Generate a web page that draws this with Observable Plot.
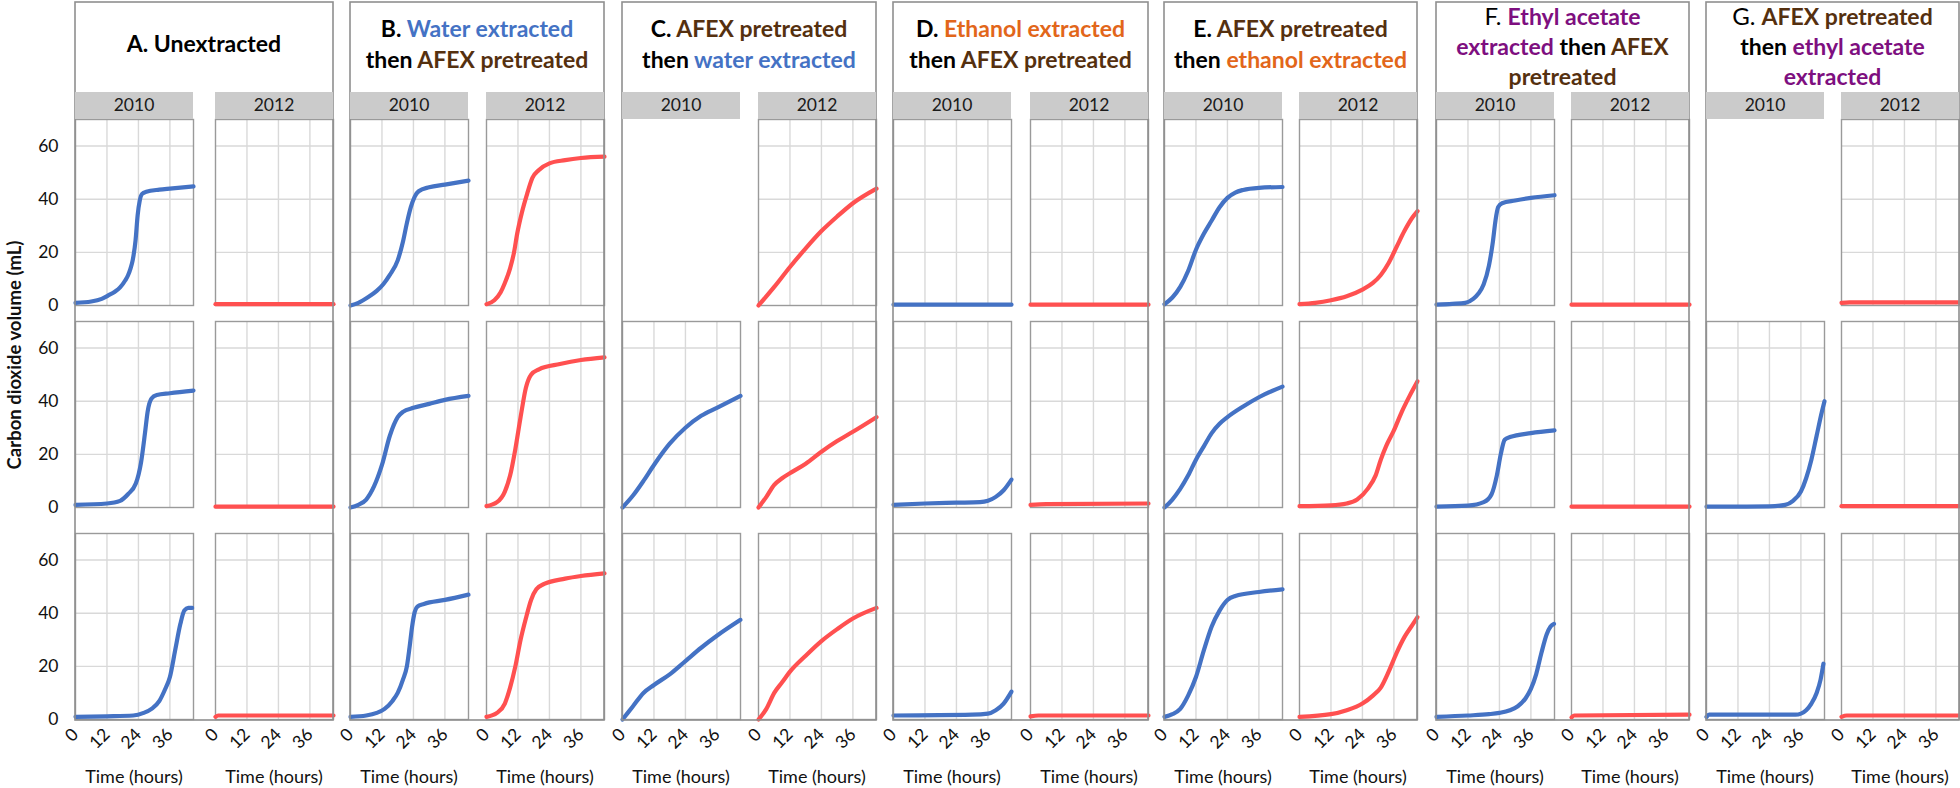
<!DOCTYPE html>
<html><head><meta charset="utf-8">
<script src="https://cdn.jsdelivr.net/npm/d3@7"></script>
<script src="https://cdn.jsdelivr.net/npm/@observablehq/plot@0.6"></script>
<style>
body{margin:0;background:#fff;}
#fig{position:relative;width:1960px;height:788px;overflow:hidden;background:#fff;font-family:Lato,"Open Sans",sans-serif;}
#fig svg.pan{position:absolute;}
#overlay{position:absolute;left:0;top:0;}
</style></head><body><div id="fig"></div>
<script>
// ---- categories / ticks ----
const groups = ["A","B","C","D","E","F","G"];
const years = ["2010","2012"];
const xTicks = [0,12,24,36];
const yTicks = [0,20,40,60];
const xGrid = [12,24,36];
const yGrid = [20,40,60];

// ---- titles (text segments: [text, colour key, weight]) ----
const titleA = [[["A. Unextracted","k"]]];
const titleB = [[["B. ","k"],["Water extracted","blue"]],[["then ","k"],["AFEX pretreated","brown"]]];
const titleC = [[["C. ","k"],["AFEX pretreated","brown"]],[["then ","k"],["water extracted","blue"]]];
const titleD = [[["D. ","k"],["Ethanol extracted","orange"]],[["then ","k"],["AFEX pretreated","brown"]]];
const titleE = [[["E. ","k"],["AFEX pretreated","brown"]],[["then ","k"],["ethanol extracted","orange"]]];
const titleF = [[["F. ","k","normal"],["Ethyl acetate","purple"]],[["extracted","purple"],[" then ","k"],["AFEX","brown"]],[["pretreated","brown"]]];
const titleG = [[["G.  ","k","normal"],["AFEX pretreated","brown"]],[["then ","k"],["ethyl acetate","purple"]],[["extracted","purple"]]];

// ---- series: [time (h), CO2 volume (mL)], rows 1..3, null = no panel ----
const A2010 = [
  [[0,1],[6,1.5],[10,2.5],[12.5,3.8],[15,5.2],[17,6.8],[19,9.5],[20,11.3],[21,14],[21.8,17],[22.9,24.5],[23.7,34],[24.5,39.5],[25.4,42],[27,42.8],[32,43.6],[36,44],[45,44.8]],
  [[0,1],[12,1.5],[17,2.5],[20,5],[23,9],[25,17],[26.5,28],[27.5,36],[29,41],[31,42.3],[36,43],[45,44]],
  [[0,1],[12,1.2],[22,1.5],[26,2.5],[29,4],[32,7],[34,11],[36,16],[38,26],[40,36],[41.5,41],[43,42],[44.5,42]]
];
const A2012 = [
  [[0,0.5],[45,0.5]],
  [[0,0.3],[45,0.3]],
  [[0,1],[1,1.5],[45,1.5]]
];
const B2010 = [
  [[0,0],[3,1],[6.5,3],[10,5.5],[12.5,8],[15,11.5],[18,17],[20,24],[21.5,31],[23,37],[24.5,41],[26,43],[30,44.5],[36,45.5],[45,47]],
  [[0,0],[3,1],[6,3],[9,8],[12,16],[15,27],[18,34],[20,36],[24,37.5],[30,39],[36,40.5],[45,42]],
  [[0,1],[6,1.5],[10,2.5],[13,4],[16,7],[18,10],[20,15],[21.5,20],[22.5,27],[23.5,35],[24.5,40.5],[25.5,42.5],[28,43.5],[36,45],[45,47]]
];
const B2012 = [
  [[0,0.5],[3,2],[5.4,5],[7,8.5],[9,14],[10.5,20],[11.7,27],[13.5,35],[15.5,42],[17.5,48],[20,51],[24,53.5],[30,54.7],[36,55.5],[45,56]],
  [[0,0.5],[4,2],[7,6],[9,12],[11,22],[13,34],[15,45],[17,50],[20,52],[28,54],[36,55.5],[45,56.5]],
  [[0,1],[4,2.5],[7,6],[9,12],[11,20],[13,30],[15,38],[17,45],[19,49],[22,51],[30,53],[36,54],[45,55]]
];
const C2010 = [
  null,
  [[0,0],[4,4.5],[8,10],[12,16],[18,24],[24,30],[30,34.5],[36,37.5],[45,42]],
  [[0,0],[4,5],[8,10],[12,13],[18,17],[24,22],[30,27],[36,31.5],[45,37.5]]
];
const C2012 = [
  [[0,0],[6,7],[12,14.5],[18,21.5],[24,28],[30,33.5],[36,38.5],[45,44]],
  [[0,0],[3,4],[6,8.5],[9,11],[13,13.5],[18,16.5],[24,21],[30,25],[36,28.5],[45,34]],
  [[0,0],[3,4],[6,10],[9,14],[12,18],[18,24],[24,29.5],[30,34],[36,38],[45,42]]
];
const D2010 = [
  [[0,0.3],[45,0.3]],
  [[0,1],[12,1.5],[24,1.8],[33,2],[36,2.5],[39,4],[42,6.5],[45,10.5]],
  [[0,1.5],[30,1.8],[36,2.2],[39,3.5],[42,6],[45,10.5]]
];
const D2012 = [
  [[0,0.3],[45,0.3]],
  [[0,1],[6,1.3],[45,1.5]],
  [[0,1.2],[3,1.5],[45,1.5]]
];
const E2010 = [
  [[0,0.5],[3,3],[6,7],[9,13],[12,21],[15,27],[18,32],[21,37],[24,40.5],[27,42.5],[30,43.5],[36,44.3],[45,44.6]],
  [[0,0],[3,3],[6,7],[9,12],[12,18],[15,23],[18,28],[21,31.5],[24,34],[30,38],[36,41.5],[45,45.5]],
  [[0,1],[3,2],[6,4],[9,9],[12,16],[15,26],[18,35],[21,41],[24,45],[27,46.5],[36,48],[45,49]]
];
const E2012 = [
  [[0,0.5],[6,1],[12,2],[18,3.5],[24,6],[28,8.5],[31,11.5],[34,16],[37,22],[40,28],[43,33],[45,35.5]],
  [[0,0.5],[12,0.8],[18,1.5],[22,3],[26,7],[29,12],[31,18],[33,23],[36,29],[39,36],[42,42],[45,47.5]],
  [[0,1],[12,2],[18,3.5],[24,6],[28,9],[31,12],[34,18],[37,25],[40,31],[43,35.5],[45,38.5]]
];
const F2010 = [
  [[0,0.3],[6,0.6],[11,1],[14,2.5],[16,4.5],[18,8],[20,15],[21.5,24],[22.5,32],[23.5,37],[25,38.5],[30,39.5],[36,40.5],[45,41.5]],
  [[0,0.3],[12,0.7],[18,2],[21,5],[23,12],[24.5,20],[26,25.5],[28,26.5],[36,28],[45,29]],
  [[0,1],[12,1.5],[20,2],[24,2.5],[28,3.5],[31,5],[34,8],[36,11.5],[38,17],[40,25],[42,32],[43.5,35],[44.8,36]]
];
const F2012 = [
  [[0,0.3],[45,0.3]],
  [[0,0.3],[45,0.3]],
  [[0,0.8],[1,1.5],[45,1.8]]
];
const G2010 = [
  null,
  [[0,0.3],[12,0.3],[24,0.4],[30,1],[33,2.5],[36,6],[38,11],[40,18],[42,27],[44,36],[45,40]],
  [[0,1],[1,1.8],[34,1.8],[36,2.2],[38,3.5],[40,6],[42,10],[43.5,15],[44.6,21]]
];
const G2012 = [
  [[0,1],[3,1.2],[45,1.2]],
  [[0,0.5],[45,0.5]],
  [[0,1],[2,1.5],[45,1.5]]
];

// ---- layout (presentation only) ----
const series = {A:[A2010,A2012],B:[B2010,B2012],C:[C2010,C2012],D:[D2010,D2012],E:[E2010,E2012],F:[F2010,F2012],G:[G2010,G2012]};
const titles = {A:titleA,B:titleB,C:titleC,D:titleD,E:titleE,F:titleF,G:titleG};
const left2010 = [75,350,622,893,1164,1436,1706];
const left2012 = [215,486,758,1030,1299,1571,1841];
const W = 118, H = 186, pad = 6;
const rowTop = [119, 321, 533];
const yearColor = ["#4472C4","#FF5050"];
const palette = {k:"#000000",blue:"#4472C4",brown:"#55300F",orange:"#E2661A",purple:"#7E0F80"};
const FONT = "Lato, 'Open Sans', sans-serif";

const fig = document.getElementById("fig");

function panel(curve, color, showY, showX) {
  const ml = showY ? 75 : pad, mb = showX ? 60 : pad;
  const svg = Plot.plot({
    width: W + ml + pad, height: H + pad + mb,
    marginLeft: ml, marginRight: pad, marginTop: pad, marginBottom: mb,
    x: {domain:[0,45], ticks:xTicks, tickRotate:-45, tickSize:0, tickPadding:12, label:null, axis: showX ? "bottom" : null},
    y: {domain:[0,70], ticks:yTicks, tickSize:0, tickPadding:17, label:null, axis: showY ? "left" : null},
    style: {background:"transparent", overflow:"visible", fontSize:"17.5px", fontFamily:FONT, color:"#111"},
    marks: [
      Plot.ruleX(xGrid, {stroke:"#d9d9d9", strokeWidth:1.4}),
      Plot.ruleY(yGrid, {stroke:"#d9d9d9", strokeWidth:1.4}),
      Plot.frame({stroke:"#9a9a9a", strokeWidth:1.4}),
      Plot.line(curve, {x:d=>d[0], y:d=>d[1], stroke:color, strokeWidth:4.2, curve:"monotone-x"})
    ]
  });
  svg.classList.add("pan");
  return {svg, ml};
}

groups.forEach((g, gi) => {
  [0,1].forEach(yi => {
    const left = yi === 0 ? left2010[gi] : left2012[gi];
    series[g][yi].forEach((curve, r) => {
      if (!curve) return;
      const {svg, ml} = panel(curve, yearColor[yi], gi === 0 && yi === 0, r === 2);
      svg.style.left = (left - ml) + "px";
      svg.style.top = (rowTop[r] - pad) + "px";
      fig.appendChild(svg);
    });
  });
});

// ---- overlay: group boxes, strips, titles, axis titles ----
const ov = d3.select(fig).append("svg").attr("id","overlay").attr("width",1960).attr("height",788)
  .style("font-family", FONT);

groups.forEach((g, gi) => {
  const x0 = left2010[gi], x1 = left2012[gi] + W, cx = (x0 + x1) / 2;
  ov.append("rect").attr("x", x0).attr("y", 2).attr("width", x1 - x0).attr("height", 718)
    .attr("fill","none").attr("stroke","#8f8f8f").attr("stroke-width",1.6);
  [left2010[gi], left2012[gi]].forEach((l, yi) => {
    ov.append("rect").attr("x", l).attr("y", 92).attr("width", W).attr("height", 27).attr("fill","#cbcbcb");
    ov.append("text").attr("x", l + W/2).attr("y", 111).attr("text-anchor","middle")
      .attr("font-size",17.5).attr("fill","#1a1a1a").text(years[yi]);
  });
  const lines = titles[g];
  const base = lines.length === 1 ? [52] : lines.length === 2 ? [37, 68] : [25, 55, 85];
  lines.forEach((segs, li) => {
    const t = ov.append("text").attr("x", cx).attr("y", base[li]).attr("text-anchor","middle")
      .attr("font-size", 23).attr("font-weight","bold");
    segs.forEach(([txt, c, w]) => {
      t.append("tspan").attr("fill", palette[c]).attr("font-weight", w || "bold")
        .attr("font-size", w === "normal" ? 24 : 23).text(txt);
    });
  });
  // x-axis titles under bottom row
  [left2010[gi], left2012[gi]].forEach(l => {
    ov.append("text").attr("x", l + W/2).attr("y", 783).attr("text-anchor","middle")
      .attr("font-size",18).attr("fill","#111").text("Time (hours)");
  });
});

ov.append("text").attr("transform","translate(21,355) rotate(-90)").attr("text-anchor","middle")
  .attr("font-size",18.5).attr("font-weight","bold").attr("fill","#111").text("Carbon dioxide volume (mL)");
</script></body></html>
